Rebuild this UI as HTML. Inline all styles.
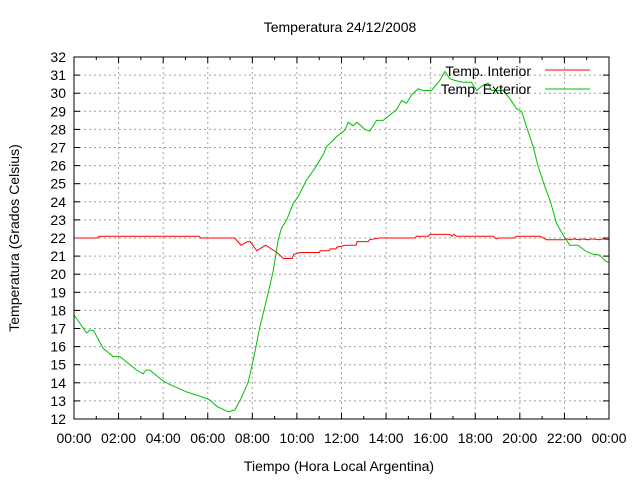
<!DOCTYPE html>
<html><head><meta charset="utf-8"><style>
html,body{margin:0;padding:0;background:#fff;}
svg{display:block;font-family:"Liberation Sans",sans-serif;}
</style></head><body>
<svg id="chart" width="640" height="480" viewBox="0 0 640 480">
<text x="340" y="32" text-anchor="middle" font-size="14">Temperatura 24/12/2008</text>
<text x="339" y="471" text-anchor="middle" font-size="14">Tiempo (Hora Local Argentina)</text>
<text transform="translate(19,238) rotate(-90)" text-anchor="middle" font-size="14">Temperatura (Grados Celsius)</text>
<g id="grid"></g><g id="ticks"></g><g id="series"></g>
<rect x="74" y="57" width="535" height="362" fill="none" stroke="#000" stroke-width="1"/>
<g>
<text x="531" y="76" text-anchor="end" font-size="14">Temp. Interior</text>
<line x1="545" y1="70" x2="590" y2="70" stroke="#ff0000"/>
<text x="531" y="94" text-anchor="end" font-size="14">Temp. Exterior</text>
<line x1="545" y1="89" x2="590" y2="89" stroke="#00c000"/>
</g>
</svg>
<script>
const xTickLabels=["00:00","02:00","04:00","06:00","08:00","10:00","12:00","14:00","16:00","18:00","20:00","22:00","00:00"];
const yTickValues=[12,13,14,15,16,17,18,19,20,21,22,23,24,25,26,27,28,29,30,31,32];
const extHours=[0,0.57,0.72,0.87,1.31,1.76,2.06,2.81,3.1,3.23,3.4,4.0,4.3,5.05,5.8,6.1,6.4,6.92,7.22,7.52,7.82,8.04,8.34,8.64,8.94,9.16,9.31,9.54,9.83,10.06,10.43,10.8,11.18,11.33,11.78,12.15,12.3,12.52,12.68,12.83,13.05,13.27,13.57,13.87,14.17,14.47,14.7,14.92,15.14,15.44,15.67,16.04,16.41,16.64,16.86,17.09,17.46,17.83,18.06,18.35,18.58,18.73,19.25,19.55,19.85,20.08,20.3,20.6,20.82,21.12,21.35,21.65,21.95,22.24,22.6,22.99,23.3,23.59,23.81,23.97];
const extTemps=[17.75,16.75,16.9,16.9,15.9,15.45,15.45,14.7,14.5,14.7,14.7,14.1,13.9,13.5,13.2,13.05,12.7,12.4,12.5,13.2,14.05,15.25,17.1,18.6,20.2,21.9,22.55,23,23.9,24.3,25.2,25.85,26.6,27.05,27.6,27.95,28.4,28.2,28.4,28.25,28.0,27.9,28.5,28.5,28.8,29.1,29.6,29.45,29.9,30.25,30.15,30.15,30.7,31.2,30.8,30.7,30.6,30.6,30.15,30.45,30.55,30.15,30.15,29.7,29.15,29.0,28.15,27.05,25.95,24.85,24.1,22.8,22.15,21.6,21.6,21.25,21.1,21.05,20.75,20.65];
const intHours=[0,1.09,1.12,5.62,5.68,7.2,7.5,7.77,7.9,8.2,8.6,9.1,9.4,9.78,9.86,10.15,11.0,11.05,11.45,11.5,11.75,11.8,12.2,12.65,12.7,13.2,13.25,13.7,15.3,15.37,15.9,15.96,16.86,16.95,17.05,17.16,18.8,18.95,19.0,19.76,19.85,20.9,21.2,22.0,22.1,22.3,22.4,22.7,22.8,23.1,23.2,23.6,23.7,24];
const intTemps=[22.0,22.0,22.1,22.1,22.0,22.0,21.6,21.8,21.8,21.3,21.6,21.2,20.87,20.87,21.1,21.2,21.2,21.3,21.3,21.4,21.4,21.5,21.6,21.6,21.8,21.8,21.9,22.0,22.0,22.1,22.1,22.2,22.2,22.1,22.2,22.1,22.1,21.95,22.0,22.0,22.1,22.1,21.9,21.9,21.95,21.9,21.95,21.9,21.95,21.9,21.95,21.9,21.95,21.9];
const L=74,R=609,T=57,B=419;
const xs=h=>L+h*(R-L)/24;
const ys=v=>B-(v-12)*(B-T)/20;
const NS="http://www.w3.org/2000/svg";
function mk(tag,attrs,parent){const e=document.createElementNS(NS,tag);for(const k in attrs)e.setAttribute(k,attrs[k]);parent.appendChild(e);return e;}
const grid=document.getElementById('grid'),ticks=document.getElementById('ticks'),series=document.getElementById('series');
yTickValues.forEach(v=>{
  const y=ys(v);
  if(v>12&&v<32){const g=mk('line',{x1:L,x2:R,y1:y,y2:y,stroke:'#a0a0a0','stroke-dasharray':'2,3'},grid);
  
  }
  mk('line',{x1:L,x2:L+6,y1:y,y2:y,stroke:'#000'},ticks);
  mk('line',{x1:R-6,x2:R,y1:y,y2:y,stroke:'#000'},ticks);
  const t=mk('text',{x:L-8,y:y+5,'text-anchor':'end','font-size':14},ticks);
  t.textContent=String(v);
  
  
});
xTickLabels.forEach((lab,i)=>{
  const h=i*2,x=xs(h);
  if(i>0&&i<12){const g=mk('line',{x1:x,x2:x,y1:T,y2:B,stroke:'#a0a0a0','stroke-dasharray':'2,3'},grid);
  
  }
  mk('line',{x1:x,x2:x,y1:B,y2:B-6,stroke:'#000'},ticks);
  mk('line',{x1:x,x2:x,y1:T,y2:T+6,stroke:'#000'},ticks);
  if(i<12){const xm=xs(h+1);mk('line',{x1:xm,x2:xm,y1:B,y2:B-3,stroke:'#000'},ticks);mk('line',{x1:xm,x2:xm,y1:T,y2:T+3,stroke:'#000'},ticks);}
  const t=mk('text',{x:x,y:443,'text-anchor':'middle','font-size':14},ticks);
  t.textContent=lab;
  
  
});
function line(hs,vs,color,name){
  const pts=hs.map((h,i)=>xs(h).toFixed(1)+','+ys(vs[i]).toFixed(1)).join(' ');
  const p=mk('polyline',{points:pts,fill:'none',stroke:color,'stroke-width':1},series);
  
  
}
line(intHours,intTemps,'#ff0000','interior-temp-line');
line(extHours,extTemps,'#00c000','exterior-temp-line');
</script>
</body></html>
